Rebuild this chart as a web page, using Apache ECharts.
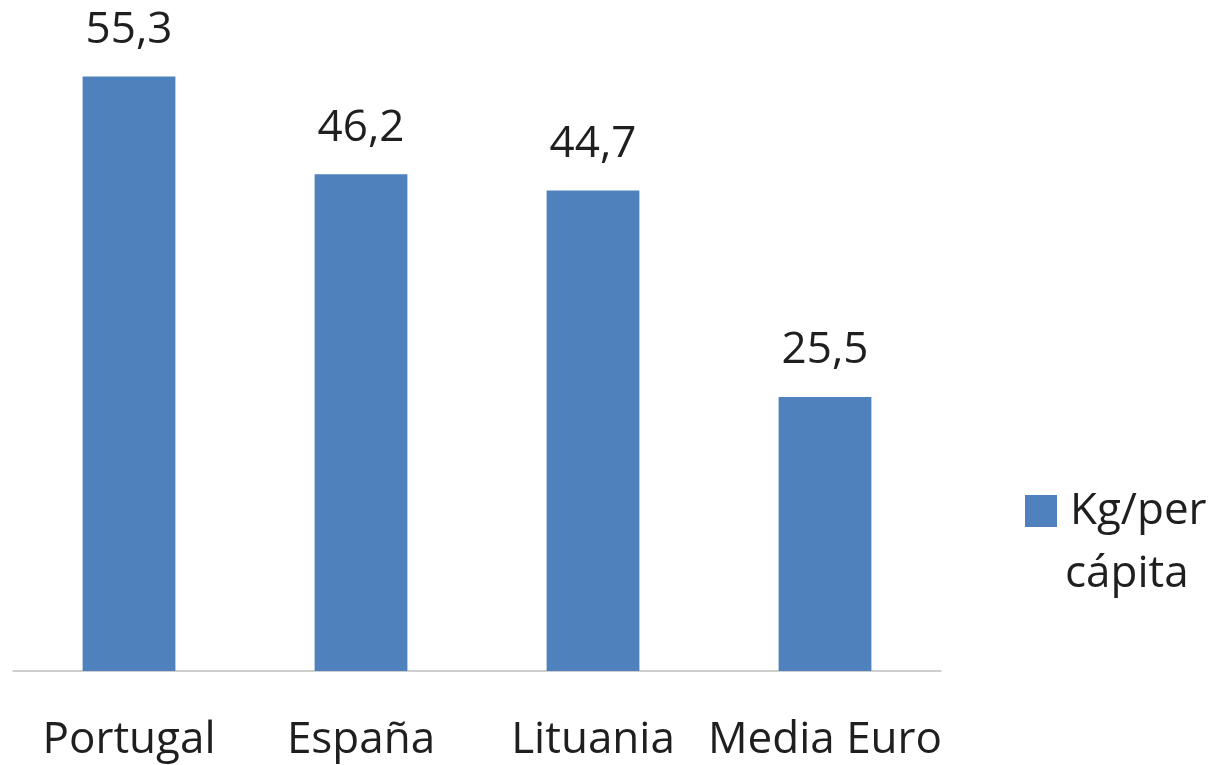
<!DOCTYPE html>
<html>
<head>
<meta charset="utf-8">
<script src="https://cdn.jsdelivr.net/npm/echarts@6/dist/echarts.min.js"></script>
<style>
  html, body { margin: 0; padding: 0; background: #fff; }
  #main { width: 1217px; height: 765px; }
</style>
</head>
<body>
<div id="main"></div>
<script>
var categories = ['Portugal', 'España', 'Lituania', 'Media Euro'];
var kgPerCapita = [55.3, 46.2, 44.7, 25.5];
var seriesName = 'Kg/per cápita';

var chart = echarts.init(document.getElementById('main'));
var font = '"Open Sans", sans-serif';
var ink = '#1f1f1f';

var option = {
  animation: false,
  textStyle: { fontFamily: font },
  grid: { left: 13, right: 276, top: 26, bottom: 94, containLabel: false },
  legend: {
    data: [seriesName],
    left: 1020,
    top: 484,
    icon: 'rect',
    itemWidth: 32,
    itemHeight: 32,
    formatter: function () { return 'Kg/per'; },
    textStyle: { fontSize: 44, color: ink, padding: [0, 0, 0, 8], fontFamily: font }
  },
  // second line of the legend label sits under the first, left-aligned
  graphic: [{
    type: 'text',
    left: 1065,
    top: 552,
    style: { text: 'cápita', fontSize: 44, fill: ink, fontFamily: font }
  }],
  xAxis: {
    type: 'category',
    data: categories,
    axisLine: { lineStyle: { color: '#bfbfbf', width: 1.5 } },
    axisTick: { show: false },
    axisLabel: { fontSize: 44, color: ink, margin: 47, interval: 0 }
  },
  yAxis: {
    type: 'value',
    min: 0,
    max: 60,
    show: false,
    splitLine: { show: false }
  },
  series: [{
    name: seriesName,
    type: 'bar',
    data: kgPerCapita,
    barWidth: '40%',
    itemStyle: { color: '#4f81bd' },
    label: {
      show: true,
      position: 'top',
      distance: 24,
      fontSize: 44,
      color: ink,
      formatter: function (p) { return p.value.toFixed(1).replace('.', ','); }
    }
  }]
};

chart.setOption(option);
</script>
</body>
</html>
